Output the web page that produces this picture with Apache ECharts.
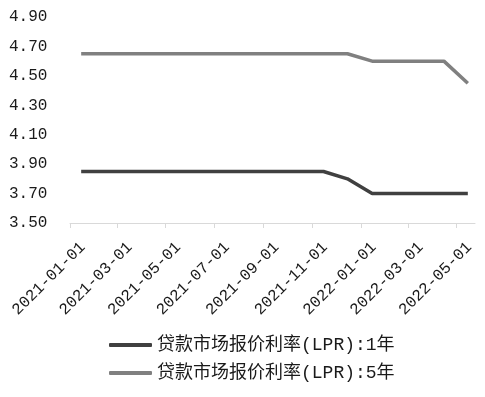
<!DOCTYPE html>
<html><head><meta charset="utf-8">
<script src="https://cdn.jsdelivr.net/npm/echarts@6/dist/echarts.min.js"></script>
<style>html,body{margin:0;padding:0;background:#fff}#c{width:485px;height:397px}</style>
</head><body><div id="c"></div>
<script>
// Data (dates read as mid-month points)
const dates = ['2021-01-15','2021-02-15','2021-03-15','2021-04-15','2021-05-15','2021-06-15','2021-07-15','2021-08-15','2021-09-15','2021-10-15','2021-11-15','2021-12-15','2022-01-15','2022-02-15','2022-03-15','2022-04-15','2022-05-15'];
const lpr1y = [3.85,3.85,3.85,3.85,3.85,3.85,3.85,3.85,3.85,3.85,3.85,3.80,3.70,3.70,3.70,3.70,3.70];
const lpr5y = [4.65,4.65,4.65,4.65,4.65,4.65,4.65,4.65,4.65,4.65,4.65,4.65,4.60,4.60,4.60,4.60,4.45];
const seriesNames = ['贷款市场报价利率(LPR):1年','贷款市场报价利率(LPR):5年'];
const xTickLabels = ['2021-01-01','2021-03-01','2021-05-01','2021-07-01','2021-09-01','2021-11-01','2022-01-01','2022-03-01','2022-05-01'];
const yTickLabels = ['3.50','3.70','3.90','4.10','4.30','4.50','4.70','4.90'];
const xMin = '2021-01-01', xMax = '2022-05-24';

function ts(s){const p=s.split('-').map(Number);return new Date(p[0],p[1]-1,p[2]).getTime();}
function fmt(v){const d=new Date(v);const m=d.getMonth()+1,dd=d.getDate();return d.getFullYear()+'-'+(m<10?'0':'')+m+'-'+(dd<10?'0':'')+dd;}

const mono = "'Liberation Mono','Noto Sans CJK SC',monospace";
const chart = echarts.init(document.getElementById('c'), null, {renderer:'canvas'});
chart.setOption({
  animation:false,
  backgroundColor:'#fff',
  grid:{left:66,right:10,top:17,bottom:174},
  xAxis:{
    type:'value', min:ts(xMin), max:ts(xMax), scale:true,
    axisLine:{show:true,lineStyle:{color:'#d9d9d9',width:1}},
    axisTick:{show:true,length:5,lineStyle:{color:'#d9d9d9'},customValues:xTickLabels.map(ts)},
    splitLine:{show:false},
    axisLabel:{
      customValues:xTickLabels.map(ts),
      formatter:function(v){return fmt(v);},
      rotate:45, align:'right', verticalAlign:'top', padding:[10,0,0,0], margin:9,
      fontFamily:mono, fontSize:16, lineHeight:16, color:'#1a1a1a'
    }
  },
  yAxis:{
    type:'value', min:3.5, max:4.9,
    axisLine:{show:false}, axisTick:{show:false}, splitLine:{show:false},
    axisLabel:{
      customValues:yTickLabels.map(Number),
      formatter:function(v){return v.toFixed(2);},
      align:'left', margin:61, fontFamily:mono, fontSize:16, color:'#1a1a1a'
    }
  },
  legend:{
    orient:'vertical', left:109, top:336, padding:0, itemWidth:43, itemHeight:4, itemGap:10,
    icon:'roundRect',
    textStyle:{fontFamily:mono, fontSize:18, lineHeight:18, color:'#1a1a1a'},
    data:seriesNames
  },
  series:[
    {name:seriesNames[0], type:'line', symbol:'none', data:dates.map((d,i)=>[ts(d),lpr1y[i]]),
     lineStyle:{color:'#404040',width:3.5}, itemStyle:{color:'#404040'}},
    {name:seriesNames[1], type:'line', symbol:'none', data:dates.map((d,i)=>[ts(d),lpr5y[i]]),
     lineStyle:{color:'#808080',width:3.5}, itemStyle:{color:'#808080'}}
  ]
});
</script></body></html>
